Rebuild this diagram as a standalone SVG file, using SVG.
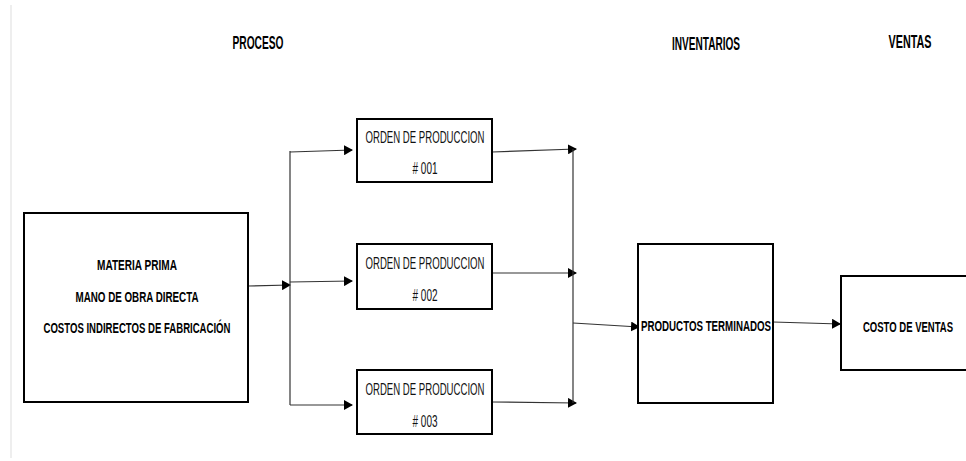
<svg xmlns="http://www.w3.org/2000/svg" width="966" height="461" viewBox="0 0 966 461">
<style>
.box{fill:#fff;stroke:#000;stroke-width:2}
.ln{fill:none;stroke:#333;stroke-width:1.2}
.hd{font-family:"Liberation Sans",Arial,sans-serif;font-weight:bold;font-size:17.5px;fill:#000}
.bt{font-family:"Liberation Sans",Arial,sans-serif;font-weight:bold;font-size:14.5px;fill:#000}
.ot{font-family:"Liberation Sans",Arial,sans-serif;font-size:16.5px;fill:#111}
</style>
<defs>
<marker id="ah" markerWidth="9" markerHeight="10" refX="8" refY="5" orient="auto" markerUnits="userSpaceOnUse">
<path d="M0,0 L9,5 L0,10 Z" fill="#000"/>
</marker>
</defs>
<rect width="966" height="461" fill="#fff"/>
<line x1="11" y1="5" x2="11" y2="458" stroke="#ddd" stroke-width="1"/>
<g id="headers">
<text class="hd" x="258" y="49" text-anchor="middle" textLength="51" lengthAdjust="spacingAndGlyphs">PROCESO</text>
<text class="hd" x="706" y="50" text-anchor="middle" textLength="68" lengthAdjust="spacingAndGlyphs">INVENTARIOS</text>
<text class="hd" x="910" y="48" text-anchor="middle" textLength="43" lengthAdjust="spacingAndGlyphs">VENTAS</text>
</g>
<g id="connectors">
<line class="ln" x1="248" y1="286" x2="290" y2="285" marker-end="url(#ah)"/>
<line class="ln" x1="290" y1="151" x2="290" y2="405"/>
<line class="ln" x1="290" y1="152" x2="352" y2="150" marker-end="url(#ah)"/>
<line class="ln" x1="290" y1="282" x2="352" y2="281" marker-end="url(#ah)"/>
<line class="ln" x1="290" y1="405" x2="352" y2="405" marker-end="url(#ah)"/>
<line class="ln" x1="492" y1="152" x2="576" y2="149" marker-end="url(#ah)"/>
<line class="ln" x1="492" y1="273" x2="576" y2="273" marker-end="url(#ah)"/>
<line class="ln" x1="492" y1="402" x2="576" y2="403" marker-end="url(#ah)"/>
<line class="ln" x1="573" y1="149" x2="573" y2="403"/>
<line class="ln" x1="573" y1="323" x2="639" y2="327" marker-end="url(#ah)"/>
<line class="ln" x1="773" y1="322" x2="840" y2="324" marker-end="url(#ah)"/>
</g>
<g id="insumos">
<rect class="box" x="24" y="213" width="224" height="189"/>
<text class="bt" x="137" y="270" text-anchor="middle" textLength="80" lengthAdjust="spacingAndGlyphs">MATERIA PRIMA</text>
<text class="bt" x="137" y="302" text-anchor="middle" textLength="123" lengthAdjust="spacingAndGlyphs">MANO DE OBRA DIRECTA</text>
<text class="bt" x="137" y="333" text-anchor="middle" textLength="187" lengthAdjust="spacingAndGlyphs">COSTOS INDIRECTOS DE FABRICACIÓN</text>
</g>
<g id="orden001">
<rect class="box" x="357" y="119" width="135" height="63"/>
<text class="ot" x="425" y="143" text-anchor="middle" textLength="119" lengthAdjust="spacingAndGlyphs">ORDEN DE PRODUCCION</text>
<text class="ot" x="425" y="174" text-anchor="middle" textLength="25" lengthAdjust="spacingAndGlyphs"># 001</text>
</g>
<g id="orden002">
<rect class="box" x="357" y="244" width="135" height="65"/>
<text class="ot" x="425" y="269" text-anchor="middle" textLength="119" lengthAdjust="spacingAndGlyphs">ORDEN DE PRODUCCION</text>
<text class="ot" x="425" y="301" text-anchor="middle" textLength="25" lengthAdjust="spacingAndGlyphs"># 002</text>
</g>
<g id="orden003">
<rect class="box" x="357" y="370" width="135" height="64"/>
<text class="ot" x="425" y="395" text-anchor="middle" textLength="119" lengthAdjust="spacingAndGlyphs">ORDEN DE PRODUCCION</text>
<text class="ot" x="425" y="427" text-anchor="middle" textLength="25" lengthAdjust="spacingAndGlyphs"># 003</text>
</g>
<g id="productos">
<rect class="box" x="638" y="244" width="135" height="159"/>
<text class="bt" x="706" y="331" text-anchor="middle" textLength="130" lengthAdjust="spacingAndGlyphs" font-size="17">PRODUCTOS TERMINADOS</text>
</g>
<g id="costo">
<rect class="box" x="841" y="276" width="140" height="94"/>
<text class="bt" x="908" y="332" text-anchor="middle" textLength="90" lengthAdjust="spacingAndGlyphs" font-size="17">COSTO DE VENTAS</text>
</g>
</svg>
